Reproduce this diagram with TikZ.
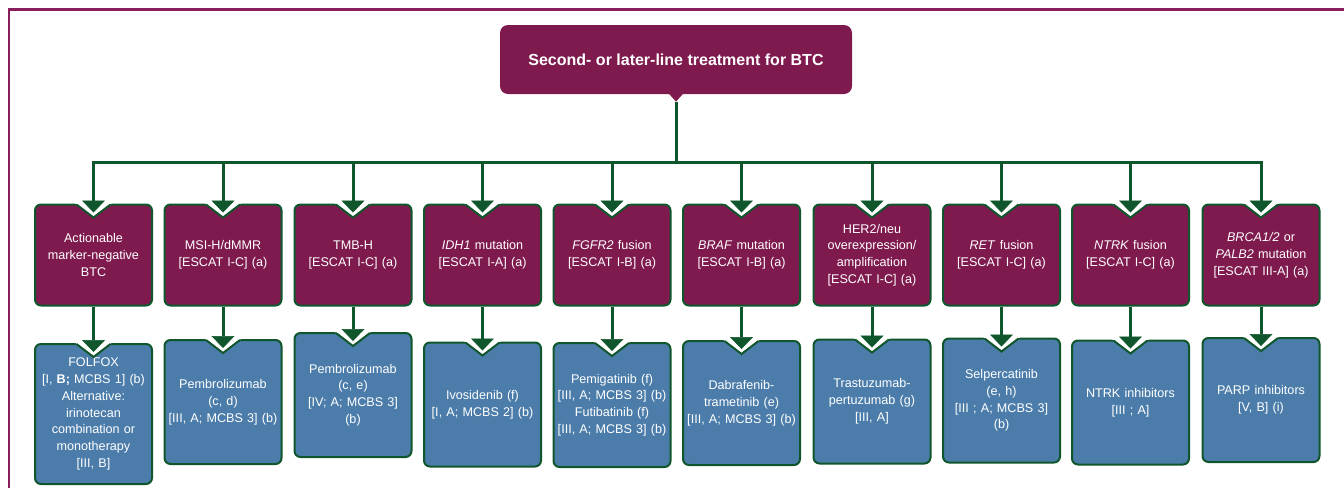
\documentclass[tikz,border=0pt]{standalone}
\usepackage{fontspec}
\setmainfont{Liberation Sans}
\usetikzlibrary{arrows.meta,shapes.geometric}
\definecolor{plum}{HTML}{7F1A4E}
\definecolor{steel}{HTML}{4C7DAA}
\definecolor{leaf}{HTML}{10562C}
\definecolor{rim}{HTML}{8A1D5C}

\begin{document}
\begin{tikzpicture}[x=1pt,y=-1pt,
  box/.style={rectangle,rounded corners=6pt,draw=leaf,line width=2pt,text=white,
    text width=112pt,align=center,inner sep=2pt,minimum width=117pt,
    font=\fontsize{12.6}{16.8}\selectfont},
  cond/.style={box,fill=plum,minimum height=101pt},
  treat/.style={box,fill=steel,minimum height=124pt},
  ln/.style={draw=leaf,line width=3pt},
  arr/.style={ln,-{Triangle[width=23pt,length=12pt,line width=0.5pt]},shorten >=-9pt}]
  \useasboundingbox (0,0) rectangle (1344,488);
  \draw[rim,line width=2.5pt] (9,488) -- (9,9.5) -- (1344,9.5);

  \node[fill=plum,rounded corners=8pt,minimum width=352pt,minimum height=69pt,text=white,
    font=\fontsize{16}{19}\selectfont\bfseries] (head) at (676,59.5)
    {Second- or later-line treatment for BTC};
  \node[diamond,fill=plum,minimum width=18pt,minimum height=20pt,inner sep=0pt] (knob)
    at ([yshift=2.5pt]head.south) {};

  % markers
  \node[cond] (t1) at (93.5,255) {Actionable\\marker-negative\\BTC};
  \node[cond] (t2) at (223,255) {MSI-H/dMMR\\{}[ESCAT I-C] (a)};
  \node[cond] (t3) at (353,255) {TMB-H\\{}[ESCAT I-C] (a)};
  \node[cond] (t4) at (482.5,255) {\textit{IDH1} mutation\\{}[ESCAT I-A] (a)};
  \node[cond] (t5) at (612,255) {\textit{FGFR2} fusion\\{}[ESCAT I-B] (a)};
  \node[cond] (t6) at (741.5,255) {\textit{BRAF} mutation\\{}[ESCAT I-B] (a)};
  \node[cond] (t7) at (872,255) {HER2/neu\\overexpression/\\amplification\\{}[ESCAT I-C] (a)};
  \node[cond] (t8) at (1001.5,255) {\textit{RET} fusion\\{}[ESCAT I-C] (a)};
  \node[cond] (t9) at (1130.5,255) {\textit{NTRK} fusion\\{}[ESCAT I-C] (a)};
  \node[cond] (t10) at (1261,255) {\textit{BRCA1/2} or\\\textit{PALB2} mutation\\{}[ESCAT III-A] (a)};

  % treatments
  \node[treat,minimum height=140pt] (s1) at (93.5,414) {FOLFOX\\{}[I, \textbf{B;} MCBS 1] (b)\\Alternative:\\irinotecan\\combination or\\monotherapy\\{}[III, B]};
  \node[treat] (s2) at (223,402) {Pembrolizumab\\(c, d)\\{}[III, A; MCBS 3] (b)};
  \node[treat] (s3) at (353,395) {Pembrolizumab\\(c, e)\\{}[IV; A; MCBS 3]\\(b)};
  \node[treat] (s4) at (482.5,404.5) {Ivosidenib (f)\\{}[I, A; MCBS 2] (b)};
  \node[treat] (s5) at (612,405) {Pemigatinib (f)\\{}[III, A; MCBS 3] (b)\\Futibatinib (f)\\{}[III, A; MCBS 3] (b)};
  \node[treat] (s6) at (741.5,403) {Dabrafenib-\\trametinib (e)\\{}[III, A; MCBS 3] (b)};
  \node[treat] (s7) at (872,401.5) {Trastuzumab-\\pertuzumab (g)\\{}[III, A]};
  \node[treat] (s8) at (1001.5,400.5) {Selpercatinib\\(e, h)\\{}[III ; A; MCBS 3]\\(b)};
  \node[treat] (s9) at (1130.5,402.5) {NTRK inhibitors\\{}[III ; A]};
  \node[treat] (s10) at (1261,400) {PARP inhibitors\\{}[V, B] (i)};

  % notches
  \foreach \n in {t,s} \foreach \i in {1,...,10} {
    \fill[white] ([xshift=-18.5pt,yshift=0.5pt]\n\i.north) -- ([yshift=-14pt]\n\i.north)
      -- ([xshift=18.5pt,yshift=0.5pt]\n\i.north) -- cycle;
    \draw[leaf,line width=2pt] ([xshift=-17pt,yshift=-1pt]\n\i.north) -- ([yshift=-14pt]\n\i.north)
      -- ([xshift=17pt,yshift=-1pt]\n\i.north);
  }

  \draw[ln] (knob.south) -- ++(0,61) coordinate (hub);
  \draw[ln,line cap=rect] (t1.north |- hub) -- (t10.north |- hub);
  \foreach \i in {1,...,10} {
    \draw[arr] (t\i.north |- hub) -- (t\i);
    \draw[arr] (t\i) -- (s\i);
  }
\end{tikzpicture}
\end{document}
